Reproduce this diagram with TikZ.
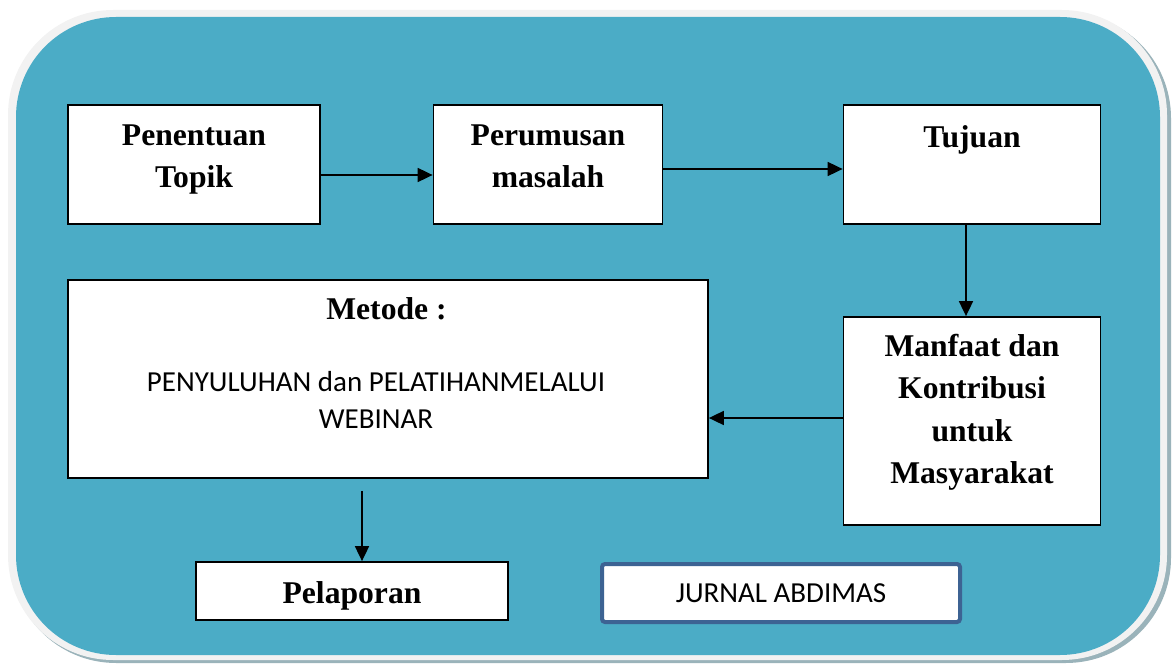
\documentclass[tikz,border=0pt]{standalone}
\usepackage{fontspec}
\setmainfont{Liberation Serif}
\newfontfamily\carlito{Carlito}
\usetikzlibrary{arrows.meta, calc}
\definecolor{bgblue}{HTML}{4BACC6}
\definecolor{rimgray}{HTML}{F2F2F2}
\definecolor{shadowgray}{HTML}{9AB3BA}
\definecolor{jurnalblue}{HTML}{3D6393}

\begin{document}
\begin{tikzpicture}[box/.style={rectangle, draw, fill=white, line width=1pt, inner sep=0pt},
            lbl/.style={font=\fontsize{18}{24}\selectfont\bfseries},
            txt/.style={inner sep=0pt, align=center, font=\fontsize{18}{24}\selectfont\bfseries},
            flow/.style={-{Triangle[length=0.3cm,width=0.28cm]}, line width=1pt}]
    \useasboundingbox (0,0) rectangle (23.46,-13.28);
    \fill[shadowgray, rounded corners=2.1cm] (0.22,-0.26) rectangle (23.42,-13.26);
    \fill[rimgray, rounded corners=2.1cm] (0.16,-0.20) rectangle (23.34,-13.20);
    \fill[bgblue, rounded corners=2cm] (0.32,-0.34) rectangle (23.20,-13.10);

    \node[box, minimum width=5.04cm, minimum height=2.38cm] (topik) at (3.88,-3.29) {};
    \node[box, minimum width=4.58cm, minimum height=2.38cm] (rumusan) at (10.96,-3.29) {};
    \node[box, lbl, minimum width=5.14cm, text height=0.86cm, text depth=1.52cm] (tujuan) at (19.44,-3.29) {Tujuan};
    \node[box, minimum width=5.14cm, minimum height=4.16cm] (manfaat) at (19.44,-8.42) {};
    \node[box, minimum width=12.8cm, minimum height=3.96cm] (metode) at (7.76,-7.58) {};
    \node[box, lbl, minimum width=6.24cm, text height=0.82cm, text depth=0.34cm] (laporan) at (7.04,-11.82) {Pelaporan};
    \node[draw=jurnalblue, line width=0.08cm, fill=white, rounded corners=0.06cm, inner sep=0pt,
        minimum width=7.16cm, text height=0.76cm, text depth=0.40cm,
        font=\carlito\fontsize{16.5}{20}\selectfont] (jurnal) at (15.62,-11.86) {JURNAL ABDIMAS};

    \node[txt, anchor=north] (topik-txt) at ([yshift=-0.40cm]topik.north) {Penentuan\\Topik};
    \node[txt, anchor=north] (rumusan-txt) at ([yshift=-0.40cm]rumusan.north) {Perumusan\\masalah};
    \node[txt, anchor=north] (manfaat-txt) at ([yshift=-0.36cm]manfaat.north) {Manfaat dan\\Kontribusi\\untuk\\Masyarakat};
    \node[lbl, inner sep=0pt, anchor=base] (metode-judul) at ([xshift=-0.03cm, yshift=-0.80cm]metode.north) {Metode :};
    \node[inner sep=0pt, align=center, anchor=north, font=\carlito\fontsize{16.5}{21}\selectfont]
        (metode-isi) at ([xshift=-0.24cm, yshift=-1.84cm]metode.north) {PENYULUHAN dan PELATIHANMELALUI\\WEBINAR};

    \draw[flow] ([yshift=-0.21cm]topik.east) -- ([yshift=-0.21cm]rumusan.west);
    \draw[flow] ([yshift=-0.09cm]rumusan.east) -- ([yshift=-0.09cm]tujuan.west);
    \draw[flow] ([xshift=-0.12cm]tujuan.south) -- ([xshift=-0.12cm]manfaat.north);
    \coordinate (m4) at ([yshift=0.06cm]manfaat.west);
    \draw[flow] (m4) -- (m4 -| metode.east);
    \coordinate (m5) at ([xshift=0.2cm]laporan.north);
    \coordinate (m5a) at ([yshift=-0.24cm]metode.south);
    \draw[flow] (m5a -| m5) -- (m5);
\end{tikzpicture}
\end{document}
